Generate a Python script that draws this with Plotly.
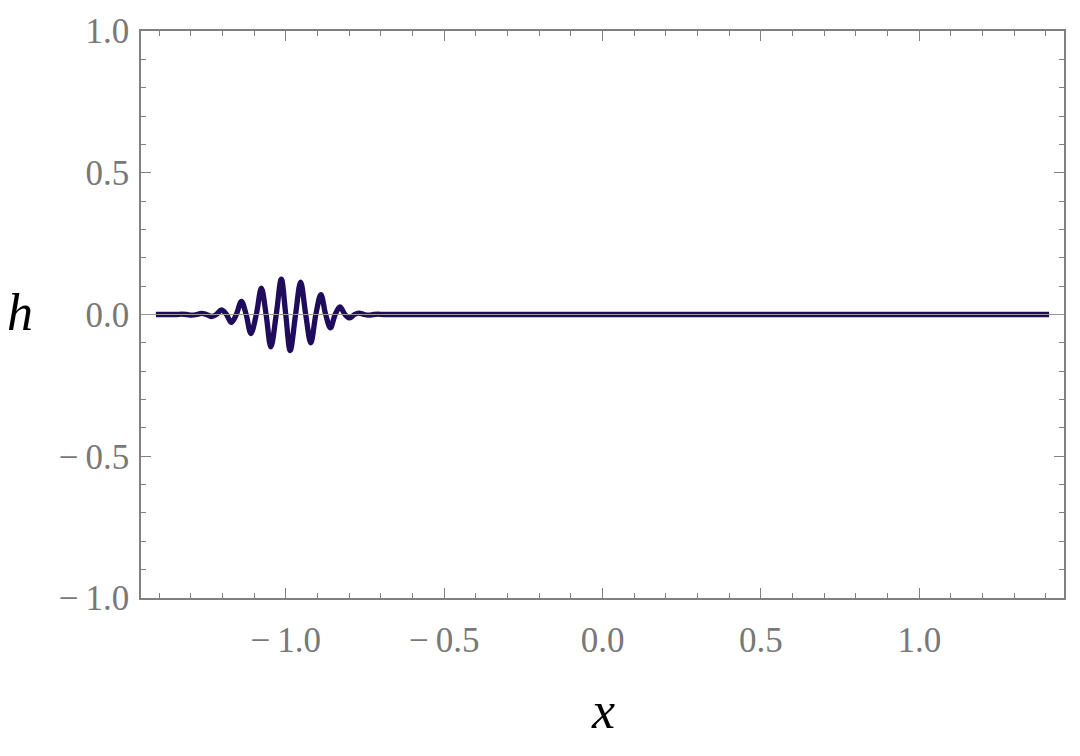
import plotly.graph_objects as go

# Wave packet h(x) (extremes and crossings)
x_vals = [-1.41, -1.36, -1.345, -1.329, -1.313, -1.297, -1.281, -1.266, -1.250, -1.235,
          -1.219, -1.203, -1.187, -1.172, -1.156, -1.140, -1.125, -1.110, -1.093, -1.077,
          -1.062, -1.047, -1.030, -1.014, -1.000, -0.986, -0.969, -0.953, -0.937, -0.921,
          -0.905, -0.889, -0.874, -0.859, -0.844, -0.829, -0.813, -0.798, -0.783, -0.769,
          -0.753, -0.738, -0.723, -0.708, -0.690, 1.41]
h_vals = [0.0, 0.0, 0.0, 0.001, 0.0, -0.002, 0.0, 0.004, 0.0, -0.007,
          0.0, 0.016, 0.0, -0.028, 0.0, 0.046, 0.0, -0.067, 0.0, 0.093,
          0.0, -0.114, 0.0, 0.125, 0.0, -0.127, 0.0, 0.114, 0.0, -0.100,
          0.0, 0.070, 0.0, -0.047, 0.0, 0.027, 0.0, -0.012, 0.0, 0.005,
          0.0, -0.002, 0.0, 0.001, 0.0, 0.0]
assert len(x_vals) == len(h_vals)

x_tickvals = [-1.0, -0.5, 0.0, 0.5, 1.0]
x_ticktext = ["\u2212\u20091.0", "\u2212\u20090.5", "0.0", "0.5", "1.0"]
y_tickvals = [-1.0, -0.5, 0.0, 0.5, 1.0]
y_ticktext = ["\u2212\u20091.0", "\u2212\u20090.5", "0.0", "0.5", "1.0"]

LINE_COLOR = "#1f0c5c"
FRAME = "#808080"
LABEL = "#787878"
FONT = "Liberation Serif"

fig = go.Figure()
fig.add_trace(go.Scatter(
    x=x_vals, y=h_vals, mode="lines",
    line=dict(color=LINE_COLOR, width=5.3, shape="spline", smoothing=1.0),
    showlegend=False, hoverinfo="skip",
))

axis_common = dict(
    showgrid=False, zeroline=False,
    showline=True, linecolor=FRAME, linewidth=1.6, mirror="ticks",
    ticks="inside", ticklen=10, tickwidth=1.2, tickcolor=FRAME,
    tickmode="array",
    tickfont=dict(family=FONT, size=35, color=LABEL),
)

fig.update_xaxes(
    **axis_common,
    range=[-1.457, 1.457],
    tickvals=x_tickvals, ticktext=x_ticktext,
    ticklabelstandoff=10,
    minor=dict(tickmode="linear", tick0=0, dtick=0.1, ticks="inside",
               ticklen=5, tickwidth=1, tickcolor=FRAME),
)
fig.update_yaxes(
    **axis_common,
    range=[-1.0, 1.0],
    tickvals=y_tickvals, ticktext=y_ticktext,
    ticklabelstandoff=3,
    minor=dict(tickmode="linear", tick0=0, dtick=0.1, ticks="inside",
               ticklen=5, tickwidth=1, tickcolor=FRAME),
)

fig.add_shape(type="line", xref="paper", yref="y", x0=0, x1=1, y0=0, y1=0,
              line=dict(color="#999999", width=1), layer="above")

fig.add_annotation(text="<i>h</i>", xref="paper", yref="y", x=0, y=0,
                   xanchor="center", yanchor="middle", xshift=-121, yshift=2,
                   showarrow=False, font=dict(family=FONT, size=52, color="black"))
fig.add_annotation(text="<i>x</i>", xref="x", yref="paper", x=0, y=0,
                   xanchor="center", yanchor="middle", yshift=-112,
                   showarrow=False, font=dict(family=FONT, size=52, color="black"))

fig.update_layout(
    width=1080, height=756,
    margin=dict(l=141, r=16, t=27, b=158),
    paper_bgcolor="white", plot_bgcolor="white",
)

fig.write_html("out.html", config={"displayModeBar": False},
               post_script="document.body.style.margin='0';")
